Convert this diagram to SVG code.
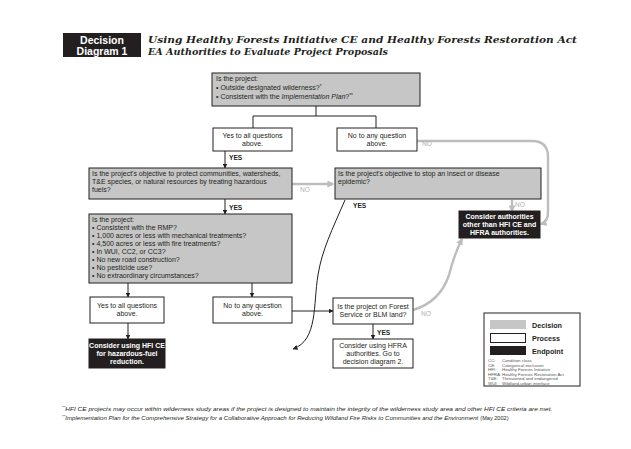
<svg xmlns="http://www.w3.org/2000/svg" width="631" height="449" viewBox="0 0 631 449">
  <defs>
    <marker id="ah" viewBox="0 0 10 10" refX="9" refY="5" markerWidth="5" markerHeight="5" orient="auto" markerUnits="userSpaceOnUse">
      <path d="M0,0 L10,5 L0,10 z" fill="#231f20"/>
    </marker>
    <marker id="ahg" viewBox="0 0 10 10" refX="8" refY="5" markerWidth="7" markerHeight="7" orient="auto" markerUnits="userSpaceOnUse">
      <path d="M0,0 L10,5 L0,10 z" fill="#bdbdbd"/>
    </marker>
  </defs>
  <style>
    .t { font-family: "Liberation Sans", Arial, sans-serif; font-size: 7px; fill: #231f20; }
    .c { text-anchor: middle; }
    .dec { fill: #c6c6c6; stroke: #231f20; stroke-width: 1; }
    .pro { fill: #ffffff; stroke: #231f20; stroke-width: 1; }
    .end { fill: #231f20; stroke: #231f20; stroke-width: 1; }
    .et { font-family: "Liberation Sans", Arial, sans-serif; font-size: 7px; font-weight: bold; fill: #ffffff; text-anchor: middle; }
    .ln { fill: none; stroke: #231f20; stroke-width: 1; }
    .arr { fill: none; stroke: #231f20; stroke-width: 1; marker-end: url(#ah); }
    .garr { fill: none; stroke: #bdbdbd; stroke-width: 2.4; marker-end: url(#ahg); }
    .yes { font-family: "Liberation Sans", Arial, sans-serif; font-size: 6.6px; font-weight: bold; fill: #231f20; }
    .no { font-family: "Liberation Sans", Arial, sans-serif; font-size: 6.6px; fill: #b0b0b0; }
    .lg { font-family: "Liberation Sans", Arial, sans-serif; font-size: 7.2px; font-weight: bold; fill: #231f20; }
    .ab { font-family: "Liberation Sans", Arial, sans-serif; font-size: 4.4px; fill: #555555; }
    .fn { font-family: "Liberation Sans", Arial, sans-serif; font-size: 5.6px; font-style: italic; fill: #231f20; }
  </style>

  <rect width="631" height="449" fill="#ffffff"/>

  <!-- title block -->
  <g id="header">
    <rect x="63" y="33" width="78" height="24" fill="#231f20"/>
    <text x="102" y="43.5" font-family="Liberation Sans, Arial, sans-serif" font-size="10.5" font-weight="bold" fill="#ffffff" text-anchor="middle">Decision</text>
    <text x="102" y="54.5" font-family="Liberation Sans, Arial, sans-serif" font-size="10.5" font-weight="bold" fill="#ffffff" text-anchor="middle">Diagram 1</text>
    <text x="148" y="43" font-family="DejaVu Serif, serif" font-size="10" font-weight="bold" font-style="italic" fill="#231f20" textLength="429" lengthAdjust="spacingAndGlyphs">Using Healthy Forests Initiative CE and Healthy Forests Restoration Act</text>
    <text x="148" y="55" font-family="DejaVu Serif, serif" font-size="10" font-weight="bold" font-style="italic" fill="#231f20" textLength="240" lengthAdjust="spacingAndGlyphs">EA Authorities to Evaluate Project Proposals</text>
  </g>

  <!-- connectors -->
  <g id="connectors">
    <path class="ln" d="M316,106 V116 M253,116 H376 M253,116 V128 M376,116 V128"/>
    <path class="arr" d="M225,151 V168"/>
    <path class="arr" d="M225,199 V214"/>
    <path class="arr" d="M128,283 V297"/>
    <path class="arr" d="M252,283 V297"/>
    <path class="arr" d="M128,323 V339"/>
    <path class="arr" d="M292,311 H333"/>
    <path class="arr" d="M373,324 V339"/>
    <path class="arr" d="M345,200 C332,230 322,250 318,275 C313,305 318,340 293,349"/>
    <path class="garr" d="M292,184 H333"/>
    <path class="garr" d="M512,200 V211"/>
    <path class="garr" d="M417,141 H532 Q548,141 548,157 V212 Q548,222 541,224"/>
    <path class="garr" d="M413,310 Q440,302 449,275 Q454,255 462,239"/>
    <text class="yes" x="229" y="160">YES</text>
    <text class="yes" x="229" y="210">YES</text>
    <text class="yes" x="353" y="208">YES</text>
    <text class="yes" x="377" y="335">YES</text>
    <text class="no" x="422" y="146">NO</text>
    <text class="no" x="300" y="192">NO</text>
    <text class="no" x="515" y="207">NO</text>
    <text class="no" x="421" y="316">NO</text>
  </g>

  <g id="q-wilderness">
    <rect class="dec" x="212" y="73" width="208" height="33"/>
    <text class="t" x="216" y="81">Is the project:</text>
    <text class="t" x="216" y="89.5">• Outside designated wilderness?<tspan font-size="4.8" dy="-2">*</tspan></text>
    <text class="t" x="216" y="98.5">• Consistent with the <tspan font-style="italic">Implementation Plan</tspan>?<tspan font-size="4.8" dy="-2">**</tspan></text>
  </g>

  <g id="yes-all-1">
    <rect class="pro" x="213" y="128" width="79" height="23"/>
    <text class="t c" x="252.5" y="138">Yes to all questions</text>
    <text class="t c" x="252.5" y="146">above.</text>
  </g>

  <g id="no-any-1">
    <rect class="pro" x="337" y="128" width="80" height="23"/>
    <text class="t c" x="377" y="138">No to any question</text>
    <text class="t c" x="377" y="146">above.</text>
  </g>

  <g id="q-objective-fuels">
    <rect class="dec" x="89" y="168" width="203" height="31"/>
    <text class="t" x="92" y="176">Is the project's objective to protect communities, watersheds,</text>
    <text class="t" x="92" y="184">T&amp;E species, or natural resources by treating hazardous</text>
    <text class="t" x="92" y="192">fuels?</text>
  </g>

  <g id="q-objective-epidemic">
    <rect class="dec" x="335" y="168" width="206" height="31"/>
    <text class="t" x="338" y="176">Is the project's objective to stop an insect or disease</text>
    <text class="t" x="338" y="184">epidemic?</text>
  </g>

  <g id="end-other">
    <rect class="end" x="459" y="211" width="81" height="27"/>
    <text class="et" x="499.5" y="219">Consider authorities</text>
    <text class="et" x="499.5" y="227">other than HFI CE and</text>
    <text class="et" x="499.5" y="235">HFRA authorities.</text>
  </g>

  <g id="q-criteria">
    <rect class="dec" x="89" y="214" width="203" height="69"/>
    <text class="t" x="92" y="222">Is the project:</text>
    <text class="t" x="92" y="230">• Consistent with the RMP?</text>
    <text class="t" x="92" y="238">• 1,000 acres or less with mechanical treatments?</text>
    <text class="t" x="92" y="246">• 4,500 acres or less with fire treatments?</text>
    <text class="t" x="92" y="254">• In WUI, CC2, or CC3?</text>
    <text class="t" x="92" y="262">• No new road construction?</text>
    <text class="t" x="92" y="270">• No pesticide use?</text>
    <text class="t" x="92" y="278">• No extraordinary circumstances?</text>
  </g>

  <g id="yes-all-2">
    <rect class="pro" x="90" y="297" width="74" height="26"/>
    <text class="t c" x="127" y="308">Yes to all questions</text>
    <text class="t c" x="127" y="316">above.</text>
  </g>

  <g id="no-any-2">
    <rect class="pro" x="213" y="297" width="79" height="26"/>
    <text class="t c" x="252.5" y="308">No to any question</text>
    <text class="t c" x="252.5" y="316">above.</text>
  </g>

  <g id="end-hfi-ce">
    <rect class="end" x="89" y="339" width="76" height="29"/>
    <text class="et" x="127" y="348">Consider using HFI CE</text>
    <text class="et" x="127" y="356">for hazardous-fuel</text>
    <text class="et" x="127" y="364">reduction.</text>
  </g>

  <g id="q-land">
    <rect class="pro" x="333" y="298" width="80" height="26"/>
    <text class="t c" x="373" y="309">Is the project on Forest</text>
    <text class="t c" x="373" y="317">Service or BLM land?</text>
  </g>

  <g id="p-hfra">
    <rect class="pro" x="333" y="339" width="80" height="29"/>
    <text class="t c" x="373" y="348">Consider using HFRA</text>
    <text class="t c" x="373" y="356">authorities. Go to</text>
    <text class="t c" x="373" y="364">decision diagram 2.</text>
  </g>

  <g id="legend">
    <rect x="484" y="313" width="96" height="73" fill="#ffffff" stroke="#231f20" stroke-width="1"/>
    <rect x="490" y="320" width="36" height="9" fill="#c6c6c6"/>
    <text class="lg" x="532" y="327.5">Decision</text>
    <rect x="490.5" y="333.5" width="35" height="9" fill="#ffffff" stroke="#231f20" stroke-width="1"/>
    <text class="lg" x="532" y="341">Process</text>
    <rect x="490" y="346" width="36" height="9" fill="#231f20"/>
    <text class="lg" x="532" y="354">Endpoint</text>
    <text class="ab" x="488" y="362">CC:</text><text class="ab" x="502" y="362">Condition class</text>
    <text class="ab" x="488" y="366.6">CE:</text><text class="ab" x="502" y="366.6">Categorical exclusion</text>
    <text class="ab" x="488" y="371.2">HFI:</text><text class="ab" x="502" y="371.2">Healthy Forests Initiative</text>
    <text class="ab" x="488" y="375.8">HFRA:</text><text class="ab" x="502" y="375.8">Healthy Forests Restoration Act</text>
    <text class="ab" x="488" y="380.4">T&amp;E:</text><text class="ab" x="502" y="380.4">Threatened and endangered</text>
    <text class="ab" x="488" y="385">WUI:</text><text class="ab" x="502" y="385">Wildland-urban interface</text>
  </g>

  <g id="footnotes">
    <text class="fn" x="62" y="411"><tspan font-size="4.2" dy="-1.6">**</tspan><tspan dy="1.6" textLength="487" lengthAdjust="spacingAndGlyphs">HFI CE projects may occur within wilderness study areas if the project is designed to maintain the integrity of the wilderness study area and other HFI CE criteria are met.</tspan></text>
    <text class="fn" x="62" y="420"><tspan font-size="4.2" dy="-1.6">**</tspan><tspan dy="1.6" textLength="413" lengthAdjust="spacingAndGlyphs">Implementation Plan for the Comprehensive Strategy for a Collaborative Approach for Reducing Wildland Fire Risks to Communities and the Environment</tspan><tspan font-style="normal" dx="2">(May 2002)</tspan></text>
  </g>
</svg>
